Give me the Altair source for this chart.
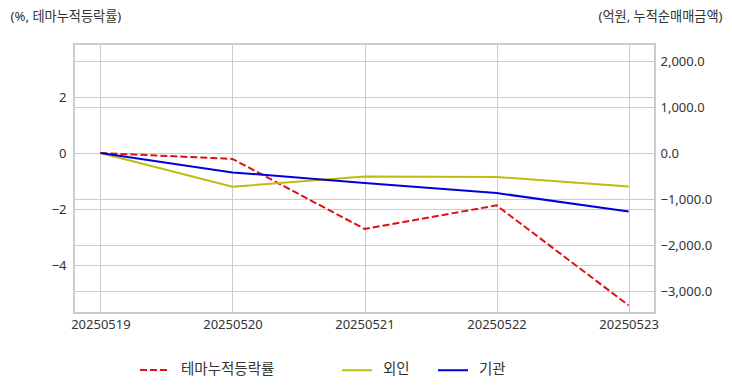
import altair as alt
import pandas as pd

dates = ["20250519", "20250520", "20250521", "20250522", "20250523"]
theme_name = "테마누적등락률"
flow_names = ["외인", "기관"]
theme_pct = [0.0, -0.21, -2.71, -1.87, -5.44]
foreign_amt = [0, -733, -508, -522, -726]
inst_amt = [0, -421, -652, -870, -1270]

theme_color = "#e01010"
flow_colors = ["#bdbd10", "#0000dd"]

theme_df = pd.DataFrame({"date": dates, "series": [theme_name] * 5, "value": theme_pct})
flow_df = pd.DataFrame({
    "date": dates * 2,
    "series": [flow_names[0]] * 5 + [flow_names[1]] * 5,
    "value": foreign_amt + inst_amt,
})

FONT = "Noto Sans, Noto Sans CJK KR"
TXT = "#333333"
GRID = "#cccccc"


def make_legend(lx):
    return alt.Legend(
        title=None, orient="none", legendX=lx, legendY=310, direction="horizontal",
        symbolType="stroke", symbolSize=900, symbolStrokeWidth=2,
        labelOffset=10, columnPadding=24, labelFontSize=14.5, labelColor=TXT, labelFont=FONT,
    )


x = alt.X("date:O", sort=dates, scale=alt.Scale(type="point", padding=0.2),
          axis=alt.Axis(title=None, labelAngle=0, grid=True, ticks=False, domain=False,
                        labelPadding=5, gridColor=GRID, labelFontSize=13, labelColor=TXT))

left = alt.Chart(theme_df).mark_line(strokeWidth=2).encode(
    x=x,
    y=alt.Y("value:Q", scale=alt.Scale(domain=[-5.714, 3.893], nice=False, zero=False),
            axis=alt.Axis(values=[2, 0, -2, -4], orient="left", title="(%, 테마누적등락률)",
                          titleAngle=0, titleAlign="left", titleBaseline="middle",
                          titleX=-64, titleY=-28, titleFontWeight="normal", titleFontSize=13.2,
                          titleColor=TXT, grid=True, gridColor=GRID, ticks=False, domain=False,
                          labelPadding=8, labelFontSize=13, labelColor=TXT)),
    color=alt.Color("series:N", scale=alt.Scale(domain=[theme_name], range=[theme_color]),
                    legend=make_legend(65)),
    strokeDash=alt.StrokeDash("series:N", scale=alt.Scale(domain=[theme_name], range=[[7, 3]]),
                              legend=make_legend(65)),
)

right = alt.Chart(flow_df).mark_line(strokeWidth=2).encode(
    x=x,
    y=alt.Y("value:Q", scale=alt.Scale(domain=[-3478, 2370], nice=False, zero=False),
            axis=alt.Axis(values=[2000, 1000, 0, -1000, -2000, -3000], orient="right",
                          format=",.1f", title="(억원, 누적순매매금액)",
                          titleAngle=0, titleAlign="right", titleBaseline="middle",
                          titleX=67, titleY=-28, titleFontWeight="normal", titleFontSize=13.2,
                          titleColor=TXT, grid=True, gridColor=GRID, ticks=False, domain=False,
                          labelPadding=5, labelFontSize=13, labelColor=TXT)),
    color=alt.Color("series:N", scale=alt.Scale(domain=flow_names, range=flow_colors),
                    legend=make_legend(267)),
)

chart = alt.layer(left, right).resolve_scale(
    y="independent", color="independent", strokeDash="independent"
).properties(
    width=581, height=269,
    autosize=alt.AutoSizeParams(type="none"),
    padding={"left": 66, "top": 36, "right": 69, "bottom": 71},
).configure(font=FONT).configure_view(stroke=GRID, strokeWidth=2)

chart.save("out.html", embed_options={"renderer": "svg", "actions": False})
